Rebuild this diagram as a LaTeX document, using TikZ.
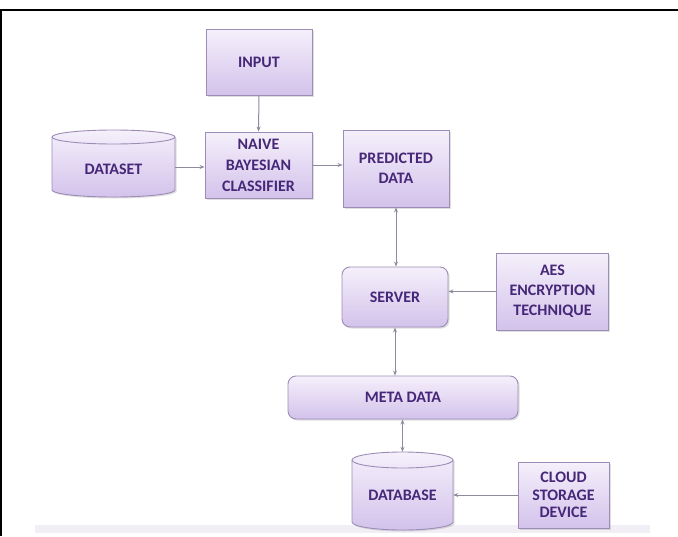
\documentclass[tikz,border=0pt]{standalone}
\usepackage{fontspec}
\setmainfont{Carlito}
\usetikzlibrary{arrows.meta,shadows,calc}
\definecolor{boxtop}{HTML}{F5F0FB}
\definecolor{boxbot}{HTML}{D3C2EB}
\definecolor{boxline}{HTML}{9C8DB6}
\definecolor{txt}{HTML}{472778}
\definecolor{arr}{HTML}{8E8C9C}
\definecolor{band}{HTML}{F1EFF5}
\tikzset{
  blk/.style={draw=boxline, line width=0.9pt, top color=boxtop, bottom color=boxbot,
    drop shadow={opacity=0.25, shadow xshift=1.5pt, shadow yshift=-1.5pt},
    text=txt, font=\bfseries\fontsize{16}{20}\selectfont, align=center, inner sep=0pt},
  rblk/.style={blk, rounded corners=8pt},
  cyltext/.style={text=txt, font=\bfseries\fontsize{16}{20}\selectfont, align=center, inner sep=0pt},
  cylbody/.style={draw=boxline, line width=0.9pt, top color=boxtop, bottom color=boxbot,
    drop shadow={opacity=0.25, shadow xshift=1.5pt, shadow yshift=-1.5pt}},
  conn/.style={draw=arr, line width=1pt, -{Stealth[length=5pt,width=4pt]}},
  dconn/.style={draw=arr, line width=1pt, {Stealth[length=5pt,width=4pt]}-{Stealth[length=5pt,width=4pt]}}
}
\begin{document}
\begin{tikzpicture}[x=1pt,y=1pt]
\useasboundingbox (0,0) rectangle (678,-536);
\fill[white] (0,0) rectangle (678,-536);
% frame
\draw[line width=2pt] (0,-10) -- (678,-10);
\draw[line width=2pt] (1,-10) -- (1,-536);
% bottom band
\fill[band] (35,-525) rectangle (650,-533);

% cylinders
\path[cylbody] (52,-137) -- (52,-190) arc[start angle=180,end angle=360,x radius=61.5,y radius=7]
  -- (175,-137) arc[start angle=0,end angle=180,x radius=61.5,y radius=7] -- cycle;
\draw[draw=boxline, line width=0.9pt] (52,-137) arc[start angle=180,end angle=360,x radius=61.5,y radius=7];
\node[cyltext, minimum width=123pt, minimum height=56pt] (dataset) at (113.5,-169) {DATASET};

\path[cylbody] (352,-460) -- (352,-522) arc[start angle=180,end angle=360,x radius=50.5,y radius=8]
  -- (453,-460) arc[start angle=0,end angle=180,x radius=50.5,y radius=8] -- cycle;
\draw[draw=boxline, line width=0.9pt] (352,-460) arc[start angle=180,end angle=360,x radius=50.5,y radius=8];
\node[cyltext, minimum width=101pt, minimum height=70pt] (database) at (402.5,-495) {DATABASE};

% boxes
\node[blk, minimum width=106pt, minimum height=66pt] (input) at (259,-62) {INPUT};
\node[blk, minimum width=107pt, minimum height=66pt] (naive) at (258.5,-165) {\raisebox{2pt}{\parbox{107pt}{\centering\fontsize{16}{21}\selectfont NAIVE\\BAYESIAN\\CLASSIFIER}}};
\node[blk, minimum width=106pt, minimum height=77pt] (predicted) at (396,-168.5) {\raisebox{8pt}{\parbox{106pt}{\centering PREDICTED\\DATA}}};
\node[rblk, minimum width=106pt, minimum height=60pt] (server) at (395,-297) {SERVER};
\node[blk, minimum width=112pt, minimum height=77pt] (aes) at (552.5,-291.5) {AES\\ENCRYPTION\\TECHNIQUE};
\node[rblk, minimum width=230pt, minimum height=43pt] (meta) at (403,-397.5) {META DATA};
\node[blk, minimum width=91pt, minimum height=66pt] (cloud) at (563.5,-495) {\parbox{91pt}{\centering\fontsize{16}{17.5}\selectfont CLOUD\\STORAGE\\DEVICE}};

% connectors
\draw[conn] (input.south) -- (naive.north);
\draw[conn] ([yshift=2pt]dataset.east) -- ([yshift=2pt]dataset.east -| naive.west);
\draw[conn] (naive.east) -- (naive.east -| predicted.west);
\draw[dconn] (predicted.south) -- (predicted.south |- server.north);
\draw[conn] (aes.west) -- (aes.west -| server.east);
\draw[dconn] (server.south) -- (server.south |- meta.north);
\draw[dconn] (meta.south -| database.north) -- ([yshift=8pt]database.north);
\draw[conn] (cloud.west) -- (cloud.west -| database.east);
\end{tikzpicture}
\end{document}
